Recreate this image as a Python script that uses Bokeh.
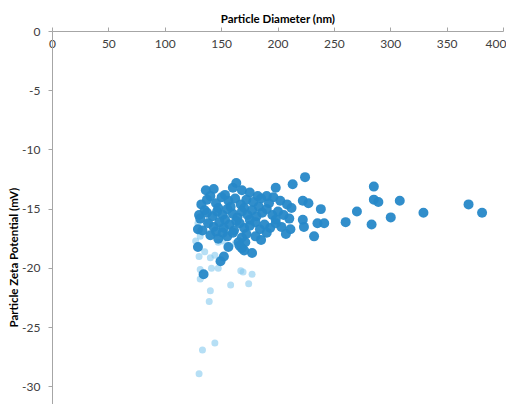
import math
from bokeh.plotting import figure
from bokeh.models import Range1d, FixedTicker, Title, ColumnDataSource
from bokeh.embed import file_html
from bokeh.resources import INLINE

# ---- data ----
x_ticks = [0, 50, 100, 150, 200, 250, 300, 350, 400]
y_ticks = [0, -5, -10, -15, -20, -25, -30]
y_tick_labels = ["0", "-5", "-10", "-15", "-20", "-25", "-30"]

dark_diam = [136, 143, 140, 160, 163, 168, 175, 182, 198, 213, 224, 153, 190,
             132, 137, 145, 150, 156, 162, 167, 172, 178, 185, 192, 196, 202, 208, 222, 227,
             147, 158, 170, 183, 212,
             130, 135, 137, 142, 146, 151, 155, 160, 164, 168, 173, 177, 181, 186, 190, 195,
             200, 205, 210, 238, 153, 175, 198, 222, 131,
             129, 133, 138, 143, 148, 152, 157, 161, 166, 170, 175, 180, 184, 188, 193, 198,
             203, 211, 223, 235, 241, 260, 283, 145, 163,
             140, 147, 155, 160, 168, 172, 180, 190, 207, 232, 151, 165, 185,
             129, 168, 171, 177, 166, 170, 149, 152, 134, 156,
             285, 285, 289, 308, 369, 381, 329, 300, 270]
dark_zeta = [-13.4, -13.3, -13.9, -13.2, -12.8, -13.4, -13.6, -13.9, -13.2, -12.9, -12.3, -13.8, -13.9,
             -14.6, -14.2, -14.5, -14.0, -14.3, -14.1, -14.6, -14.2, -14.4, -14.1, -14.5, -14.0, -14.3, -14.6, -14.3, -14.5,
             -14.9, -14.8, -14.9, -14.8, -14.9,
             -15.5, -15.1, -15.3, -15.6, -15.2, -15.5, -15.0, -15.4, -15.7, -15.2, -15.5, -15.1, -15.6, -15.3, -15.0, -15.5,
             -15.2, -15.5, -15.8, -15.0, -15.9, -15.9, -15.9, -15.9, -15.8,
             -16.7, -16.8, -16.2, -16.5, -16.1, -16.6, -16.3, -16.8, -16.2, -16.6, -16.4, -16.1, -16.7, -16.3, -16.6, -16.2,
             -16.5, -16.7, -16.5, -16.2, -16.2, -16.1, -16.3, -16.9, -16.0,
             -17.2, -17.5, -17.3, -17.0, -17.4, -17.1, -17.3, -17.0, -17.1, -17.3, -17.0, -17.8, -17.6,
             -18.2, -18.3, -17.8, -18.7, -18.1, -18.5, -19.4, -19.0, -20.5, -18.2,
             -13.1, -14.2, -14.4, -14.3, -14.6, -15.3, -15.3, -15.7, -15.2]

light_diam = [127, 129, 130, 131, 130, 131, 131, 140, 141, 147, 140, 139, 158, 167, 169,
              174, 177, 147, 151, 162, 144, 133, 130, 135, 144, 138, 150, 145]
light_zeta = [-17.7, -16.2, -16.9, -17.3, -19.0, -20.1, -20.9, -19.1, -20.0, -20.0, -21.9, -22.8, -21.4, -20.2, -20.3,
              -21.3, -20.5, -17.8, -17.7, -17.9, -26.3, -26.9, -28.9, -18.6, -18.9, -16.0, -16.5, -15.5]

FONT = "Lato"

p = figure(width=506, height=404, output_backend="svg", toolbar_location=None,
           x_axis_location="above",
           x_range=Range1d(0, 400), y_range=Range1d(-31.5, 0),
           min_border_left=52, min_border_right=3, min_border_top=31, min_border_bottom=0)
p.outline_line_color = None
p.grid.visible = False
p.background_fill_color = "white"
p.border_fill_color = "white"

light_src = ColumnDataSource(dict(x=light_diam, y=light_zeta))
dark_src = ColumnDataSource(dict(x=dark_diam, y=dark_zeta))
p.scatter("x", "y", source=light_src, size=7, fill_color="#86C9EE", fill_alpha=0.6,
          line_color=None)
p.scatter("x", "y", source=dark_src, size=10, fill_color="#2688C8", fill_alpha=0.95,
          line_color=None)

xa = p.xaxis[0]
xa.ticker = FixedTicker(ticks=x_ticks)
xa.axis_label = "Particle Diameter (nm)"
xa.axis_label_text_font = FONT
xa.axis_label_text_font_style = "bold"
xa.axis_label_text_font_size = "11.5px"
xa.axis_label_text_color = "#000000"
xa.axis_label_standoff = 12
xa.major_label_text_font = FONT
xa.major_label_text_font_size = "12px"
xa.major_label_text_color = "#404040"
xa.major_label_standoff = -20
xa.major_tick_out = 4
xa.major_tick_in = 0
xa.minor_tick_out = 0
xa.minor_tick_in = 0
xa.axis_line_color = "#A6A6A6"
xa.major_tick_line_color = "#A6A6A6"

ya = p.yaxis[0]
ya.ticker = FixedTicker(ticks=y_ticks)
ya.major_label_overrides = {t: s for t, s in zip(y_ticks, y_tick_labels)}
ya.major_label_text_font = FONT
ya.major_label_text_font_size = "12px"
ya.major_label_text_color = "#404040"
ya.major_label_standoff = 8
ya.major_tick_out = 4
ya.major_tick_in = 0
ya.minor_tick_out = 0
ya.minor_tick_in = 0
ya.axis_line_color = "#A6A6A6"
ya.major_tick_line_color = "#A6A6A6"

ytitle = Title(text="Particle Zeta Potential (mV)", align="left", offset=77,
               text_font=FONT, text_font_style="bold", text_font_size="11.5px",
               text_color="#000000", standoff=0)
p.add_layout(ytitle, "left")

open("out.html", "w").write(file_html(p, INLINE))
